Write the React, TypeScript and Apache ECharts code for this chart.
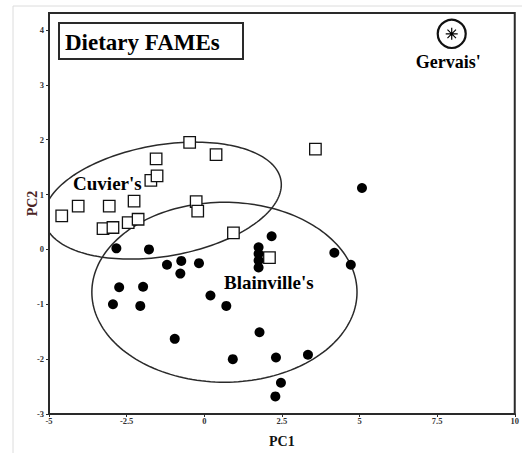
import React, { useEffect, useRef } from 'react';
import * as echarts from 'echarts';

const X_TICKS = [-5, -2.5, 0, 2.5, 5, 7.5, 10];
const Y_TICKS = [-3, -2, -1, 0, 1, 2, 3, 4];

// Cuvier's (open squares)
const CUVIERS: number[][] = [
  [-4.59, 0.61], [-4.06, 0.79], [-3.06, 0.79], [-2.26, 0.88],
  [-3.26, 0.38], [-2.94, 0.4], [-2.45, 0.49], [-2.13, 0.55],
  [-1.72, 1.26], [-1.52, 1.34], [-1.55, 1.65], [-0.47, 1.95],
  [0.38, 1.73], [-0.26, 0.87], [-0.21, 0.7], [0.94, 0.3],
  [2.1, -0.15], [3.58, 1.83],
];

// Blainville's (filled dots)
const BLAINVILLES: number[][] = [
  [-2.83, 0.02], [-1.78, 0.0], [-1.2, -0.28], [-0.74, -0.21],
  [-0.77, -0.44], [-0.17, -0.25], [-2.74, -0.69], [-1.97, -0.68],
  [-2.94, -1.0], [-2.06, -1.03], [0.2, -0.84], [0.71, -1.03],
  [-0.95, -1.63], [1.78, -1.51], [0.92, -2.0], [2.31, -1.97],
  [3.34, -1.92], [2.47, -2.43], [2.29, -2.68], [2.17, 0.24],
  [1.75, 0.04], [1.75, -0.08], [1.75, -0.2], [1.75, -0.33],
  [4.19, -0.06], [4.72, -0.28], [5.08, 1.12],
];

// Gervais' (single point)
const GERVAIS: number[][] = [[7.97, 3.93]];

// Ellipses: centre x, centre y, semi-diameter u (x, y), conjugate v (x, y)
const CUVIER_ELLIPSE = [-1.34, 0.89, 3.81, 0.37, 0.3, -1.0];
const BLAINVILLE_ELLIPSE = [0.65, -0.78, 4.27, 0, 0, 1.64];

// Group labels
const LABEL_NAMES = ["Cuvier's", "Blainville's", "Gervais'"];
const LABEL_POS: number[][] = [[-3.12, 1.21], [2.08, -0.61], [7.86, 3.42]];

const TITLE = 'Dietary FAMEs';

const SERIF = '"Liberation Serif", "DejaVu Serif", serif';

const ASTERISK =
  'path://M9,0 L11,0 L11,20 L9,20 Z M0,9 L20,9 L20,11 L0,11 Z M2.2,3.6 L3.6,2.2 L17.8,16.4 L16.4,17.8 Z M16.4,2.2 L17.8,3.6 L3.6,17.8 L2.2,16.4 Z';

export default function App() {
  const ref = useRef<HTMLDivElement>(null);

  useEffect(() => {
    if (!ref.current) return;
    const chart = echarts.init(ref.current, null, { renderer: 'svg' });

    const ellipseItem = (params: any, api: any) => {
      const cx = api.value(0);
      const cy = api.value(1);
      const ux = api.value(2);
      const uy = api.value(3);
      const vx = api.value(4);
      const vy = api.value(5);
      const pts: number[][] = [];
      const n = 180;
      for (let i = 0; i <= n; i++) {
        const t = (i / n) * Math.PI * 2;
        pts.push(
          api.coord([
            cx + ux * Math.cos(t) + vx * Math.sin(t),
            cy + uy * Math.cos(t) + vy * Math.sin(t),
          ])
        );
      }
      return {
        type: 'polygon',
        shape: { points: pts },
        style: { fill: 'none', stroke: '#2a2a2a', lineWidth: 1.5 },
      };
    };

    const option: any = {
      animation: false,
      backgroundColor: '#ffffff',
      grid: {
        left: 49,
        right: 6,
        top: 13,
        bottom: 39,
        show: true,
        borderColor: '#2a2a2a',
        borderWidth: 2,
        backgroundColor: 'transparent',
      },
      xAxis: {
        type: 'value',
        min: -5,
        max: 10,
        interval: 2.5,
        name: 'PC1',
        nameLocation: 'middle',
        nameGap: 20,
        nameMoveOverlap: false,
        nameTextStyle: { fontFamily: SERIF, fontWeight: 'bold', fontSize: 14, color: '#111' },
        axisLine: { show: true, onZero: false, lineStyle: { color: '#2a2a2a', width: 2 } },
        axisTick: { show: true, length: 3, lineStyle: { color: '#2a2a2a', width: 1 } },
        axisLabel: {
          fontFamily: SERIF,
          fontWeight: 'bold',
          fontSize: 8.5,
          color: '#333',
          margin: 2,
          customValues: X_TICKS,
        },
        splitLine: { show: false },
      },
      yAxis: {
        type: 'value',
        min: -3,
        max: 4.31,
        interval: 1,
        name: 'PC2',
        nameLocation: 'middle',
        nameGap: 10,
        nameMoveOverlap: false,
        nameTextStyle: {
          fontFamily: SERIF,
          fontWeight: 'bold',
          fontSize: 14,
          color: '#4a2424',
          padding: [0, 0, 0, 20],
        },
        axisLine: { show: true, onZero: false, lineStyle: { color: '#2a2a2a', width: 2 } },
        axisTick: { show: true, length: 3, customValues: Y_TICKS, lineStyle: { color: '#2a2a2a', width: 1 } },
        axisLabel: {
          fontFamily: SERIF,
          fontWeight: 'bold',
          fontSize: 8.5,
          color: '#333',
          margin: 5,
          customValues: Y_TICKS,
        },
        splitLine: { show: false },
      },
      graphic: [
        { type: 'line', shape: { x1: 13, y1: 6, x2: 13, y2: 453 }, style: { stroke: '#dcdcdc', lineWidth: 1 }, silent: true },
        { type: 'line', shape: { x1: 13, y1: 6, x2: 522, y2: 6 }, style: { stroke: '#dcdcdc', lineWidth: 1 }, silent: true },
        {
          type: 'rect',
          shape: { x: 59, y: 23, width: 184, height: 36 },
          style: { fill: '#ffffff', stroke: '#2a2a2a', lineWidth: 2 },
          z: 10,
        },
        {
          type: 'text',
          x: 65,
          y: 42,
          style: {
            text: TITLE,
            font: `bold 23px ${SERIF}`,
            fill: '#000',
            verticalAlign: 'middle',
            align: 'left',
          },
          z: 11,
        },
      ],
      series: [
        {
          type: 'custom',
          name: 'ellipses',
          clip: true,
          renderItem: ellipseItem,
          data: [CUVIER_ELLIPSE, BLAINVILLE_ELLIPSE],
          z: 1,
          silent: true,
        },
        {
          type: 'scatter',
          name: "Cuvier's",
          symbol: 'rect',
          symbolSize: 11.5,
          itemStyle: { color: '#ffffff', borderColor: '#111', borderWidth: 1.3, opacity: 1 },
          data: CUVIERS,
          z: 3,
        },
        {
          type: 'scatter',
          name: "Blainville's",
          symbol: 'circle',
          symbolSize: 10,
          itemStyle: { color: '#000', opacity: 1 },
          data: BLAINVILLES,
          z: 4,
        },
        {
          type: 'scatter',
          name: "Gervais' ring",
          symbol: 'circle',
          symbolSize: 28,
          itemStyle: { color: '#fff', borderColor: '#111', borderWidth: 2.2, opacity: 1 },
          data: GERVAIS,
          z: 4,
        },
        {
          type: 'scatter',
          name: "Gervais'",
          symbol: ASTERISK,
          symbolSize: 12,
          itemStyle: { color: '#000', opacity: 1 },
          data: GERVAIS,
          z: 5,
        },
        {
          type: 'scatter',
          name: 'labels',
          symbolSize: 1,
          silent: true,
          itemStyle: { opacity: 0 },
          data: LABEL_POS.map((p, i) => ({
            value: p,
            label: {
              show: true,
              position: 'inside',
              formatter: LABEL_NAMES[i],
              fontFamily: SERIF,
              fontSize: i === 2 ? 18 : 19,
              fontWeight: 'bold',
              color: '#000',
              opacity: 1,
              textBorderWidth: 0,
            },
          })),
          z: 6,
        },
      ],
    };

    chart.setOption(option);
    return () => chart.dispose();
  }, []);

  return (
    <div
      ref={ref}
      style={{ position: 'fixed', left: 0, top: 0, width: 522, height: 453, background: '#fff' }}
    />
  );
}
